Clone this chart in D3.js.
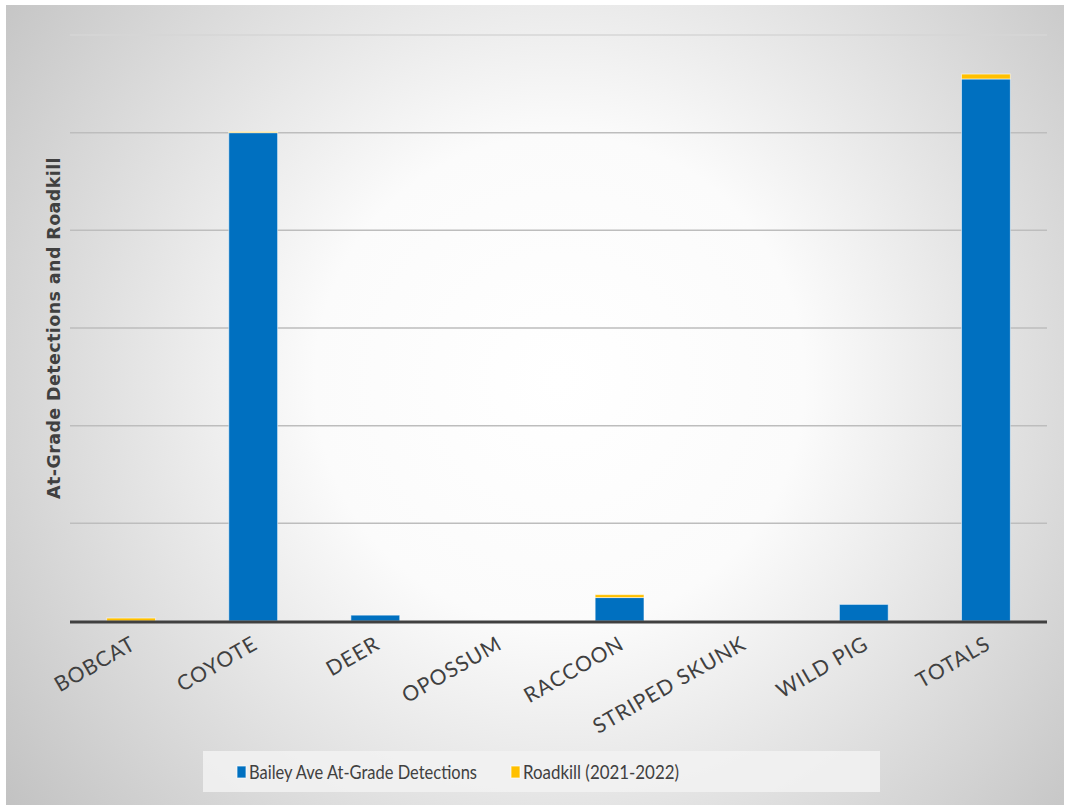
<!DOCTYPE html>
<html>
<head>
<meta charset="utf-8">
<script src="https://cdn.jsdelivr.net/npm/d3@7"></script>
<style>
  html, body { margin: 0; padding: 0; background: #fff; }
  svg { display: block; }
</style>
</head>
<body>
<svg id="chart" width="1068" height="808"></svg>
<script>
// Species and the two stacked series
const categories = ["BOBCAT", "COYOTE", "DEER", "OPOSSUM", "RACCOON", "STRIPED SKUNK", "WILD PIG", "TOTALS"];
const detections = [0, 500, 6, 0, 24, 0, 17, 555];
const roadkill   = [3, 1, 0, 0, 3, 0, 0, 5];
const gridValues = [0, 100, 200, 300, 400, 500, 600];
const seriesNames = ["Bailey Ave At-Grade Detections", "Roadkill (2021-2022)"];
const seriesColors = ["#0070C0", "#FFC000"];

const W = 1068, H = 808;
const svg = d3.select("#chart");
const defs = svg.append("defs");

// Soft radial backdrop: bright centre fading to grey corners
const grad = defs.append("radialGradient")
  .attr("id", "bg").attr("gradientUnits", "userSpaceOnUse")
  .attr("cx", 560).attr("cy", 380).attr("r", 700);
grad.append("stop").attr("offset", "0%").attr("stop-color", "#ffffff");
grad.append("stop").attr("offset", "35%").attr("stop-color", "#fbfbfb");
grad.append("stop").attr("offset", "100%").attr("stop-color", "#c2c2c2");

svg.append("rect").attr("width", W).attr("height", H).attr("fill", "#fff");
svg.append("rect").attr("x", 6).attr("y", 5).attr("width", W - 10).attr("height", H - 8)
  .attr("fill", "url(#bg)");

const plot = { left: 70, right: 1047, top: 35, bottom: 621 };

const x = d3.scaleBand().domain(categories)
  .range([plot.left, plot.right]).paddingInner(0.6).paddingOuter(0.3);
const y = d3.scaleLinear().domain([0, 600]).range([plot.bottom, plot.top]);

// Horizontal gridlines
svg.append("g").selectAll("line").data(gridValues.filter(v => v > 0)).join("line")
  .attr("x1", plot.left).attr("x2", plot.right)
  .attr("y1", d => y(d)).attr("y2", d => y(d))
  .attr("stroke", d => d === 600 ? "#d6d6d6" : "#bdbdbd")
  .attr("stroke-width", 1.5);

// Stacked bars
const rows = categories.map((c, i) => ({ cat: c, det: detections[i], rk: roadkill[i] }));
const stack = d3.stack().keys(["det", "rk"])(rows);

svg.append("g").selectAll("g").data(stack).join("g")
  .attr("fill", (d, i) => seriesColors[i])
  .selectAll("rect").data(d => d.filter(s => s[1] - s[0] > 0)).join("rect")
  .attr("x", d => x(d.data.cat))
  .attr("width", x.bandwidth())
  .attr("y", d => y(d[1]))
  .attr("height", d => y(d[0]) - y(d[1]))
  .attr("stroke", "rgba(255,255,255,0.55)")
  .attr("stroke-width", 1);

// Baseline axis
svg.append("line")
  .attr("x1", plot.left).attr("x2", plot.right)
  .attr("y1", plot.bottom + 1).attr("y2", plot.bottom + 1)
  .attr("stroke", "#404040").attr("stroke-width", 3);

// Category labels, tilted
const xAxis = d3.axisBottom(x).tickSize(0).tickPadding(0);
const gx = svg.append("g").attr("transform", `translate(0,${plot.bottom})`).call(xAxis);
gx.select(".domain").remove();
gx.selectAll("text")
  .attr("font-family", "Lato, 'Open Sans', sans-serif")
  .attr("font-size", 21)
  .attr("letter-spacing", 1)
  .attr("fill", "#404040")
  .attr("text-anchor", "end")
  .attr("dy", 0)
  .attr("transform", "translate(6,27) rotate(-30)");

// Vertical axis title
svg.append("text")
  .attr("transform", `translate(60,${(plot.top + plot.bottom) / 2}) rotate(-90)`)
  .attr("text-anchor", "middle")
  .attr("font-family", "'DejaVu Sans', sans-serif")
  .attr("font-weight", "bold")
  .attr("font-size", 17.5)
  .attr("letter-spacing", 0.4)
  .attr("fill", "#404040")
  .text("At-Grade Detections and Roadkill");

// Legend
const lg = svg.append("g");
lg.append("rect").attr("x", 203).attr("y", 751).attr("width", 677).attr("height", 41)
  .attr("fill", "#f2f2f2").attr("opacity", 0.85);
const legendX = [237, 511];
const legendLen = [228, 156];
seriesNames.forEach((name, i) => {
  lg.append("rect").attr("x", legendX[i]).attr("y", 766).attr("width", 9).attr("height", 12)
    .attr("fill", seriesColors[i]).attr("stroke", "rgba(255,255,255,0.7)").attr("stroke-width", 1);
  lg.append("text").attr("x", legendX[i] + 12).attr("y", 779)
    .attr("font-family", "Lato, 'Open Sans', sans-serif")
    .attr("font-size", 20).attr("fill", "#404040")
    .attr("textLength", legendLen[i]).attr("lengthAdjust", "spacingAndGlyphs")
    .text(name);
});
</script>
</body>
</html>
